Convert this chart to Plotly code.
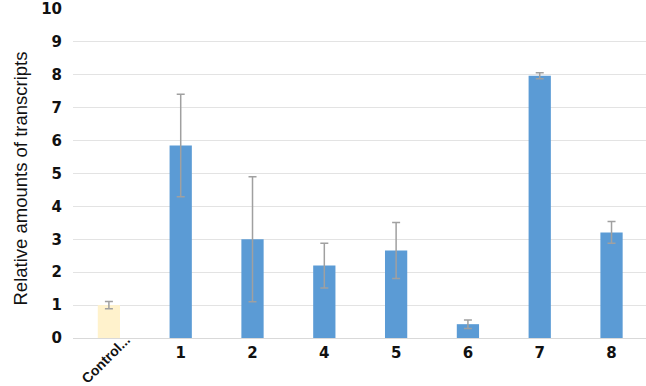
import plotly.graph_objects as go

categories = ["Control", "1", "2", "4", "5", "6", "7", "8"]
tick_labels = ["Control...", "1", "2", "4", "5", "6", "7", "8"]
values = [1.0, 5.85, 3.0, 2.2, 2.66, 0.42, 7.97, 3.21]
errors = [0.11, 1.56, 1.9, 0.68, 0.85, 0.13, 0.09, 0.33]
bar_colors = ["#FFF2CC"] + ["#5B9BD5"] * 7
y_ticks = list(range(0, 11))
y_title = "Relative amounts of transcripts"

fig = go.Figure()
fig.add_trace(go.Bar(
    x=categories, y=values,
    marker=dict(color=bar_colors, line=dict(width=0)),
    error_y=dict(type="data", array=errors, visible=True,
                 color="#A0A0A0", thickness=1.5, width=4),
    showlegend=False,
))

fig.update_layout(
    width=646, height=386,
    margin=dict(l=73, r=0, t=9, b=48),
    paper_bgcolor="white", plot_bgcolor="white",
    bargap=0.69,
    font=dict(family="DejaVu Sans", color="#000000"),
)
fig.update_xaxes(
    type="category", range=[-0.5, 7.48],
    tickmode="array", tickvals=categories,
    ticktext=[""] + tick_labels[1:],
    tickfont=dict(family="DejaVu Sans", size=15, color="#111111", weight="bold"),
    showgrid=False, showline=False, zeroline=False, ticks="",
    ticklabelstandoff=4,
)
fig.update_yaxes(
    range=[0, 10], tickvals=y_ticks,
    tickfont=dict(family="DejaVu Sans", size=15, color="#111111", weight="bold"),
    showgrid=True, gridcolor="#E3E3E3", gridwidth=1,
    zeroline=True, zerolinecolor="#D9D9D9", zerolinewidth=1,
    showline=False, ticks="", ticklabelstandoff=10,
)
fig.add_annotation(
    x=0, y=0.5, xref="paper", yref="paper",
    text=y_title, textangle=-90, showarrow=False,
    xanchor="center", yanchor="middle", xshift=-53, yshift=-5,
    font=dict(family="Liberation Sans, Arial", size=18.5, color="#111111"),
)
fig.add_annotation(
    x=categories[0], y=0, xref="x", yref="y",
    text=tick_labels[0], textangle=-45, showarrow=False,
    xanchor="right", yanchor="top", xshift=27, yshift=9,
    font=dict(family="Liberation Sans, Arial", size=14, color="#111111", weight="bold"),
)

fig.write_html("out.html", post_script="document.body.style.margin='0';",
               config={"displayModeBar": False})
